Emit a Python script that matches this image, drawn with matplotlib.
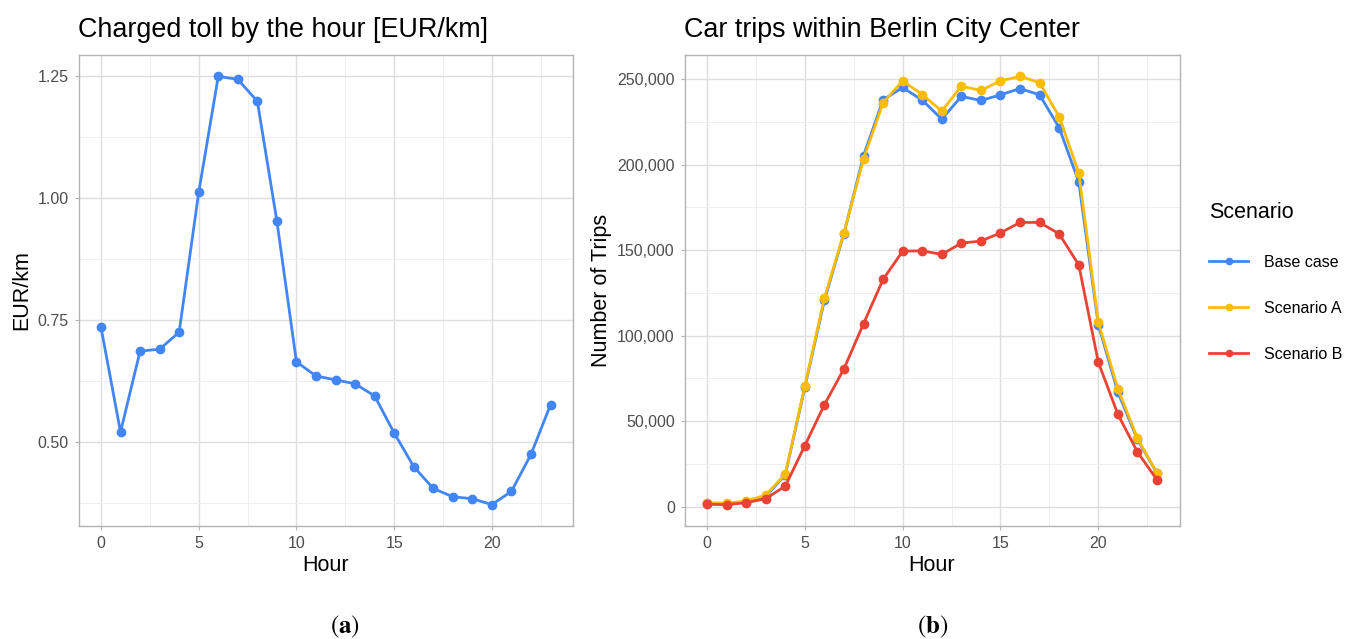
import numpy as np
import matplotlib.pyplot as plt
from matplotlib.ticker import FuncFormatter, MultipleLocator

plt.rcParams['font.family'] = ['Liberation Sans', 'DejaVu Sans']

# Datos
hours = np.arange(0, 24)

toll = [0.735, 0.520, 0.686, 0.690, 0.725, 1.012, 1.250, 1.244, 1.199, 0.953,
        0.664, 0.635, 0.627, 0.619, 0.594, 0.518, 0.449, 0.404, 0.387, 0.383,
        0.371, 0.398, 0.474, 0.576]

base_case = [1900, 1700, 2900, 6000, 18600, 69800, 120600, 159700, 205250, 237900,
             245100, 237700, 226600, 239900, 237500, 240800, 244500, 240800, 221600, 189900,
             106400, 66900, 39300, 19600]
scenario_a = [2300, 2100, 3300, 6800, 19000, 70600, 122000, 160100, 203300, 236200,
              249000, 241000, 231300, 245900, 243400, 249000, 251600, 247900, 228000, 195300,
              108000, 69000, 40000, 19600]
scenario_b = [1400, 1200, 2300, 4700, 12000, 35700, 59600, 80600, 107000, 132900,
              149400, 149600, 147500, 154100, 155300, 160100, 166200, 166200, 159500, 141400,
              84500, 54000, 32000, 15700]

series = [("Base case", base_case, "#4285F4"),
          ("Scenario A", scenario_a, "#FBBC05"),
          ("Scenario B", scenario_b, "#EA4335")]


def estilo(ax):
    ax.set_facecolor("white")
    for s in ax.spines.values():
        s.set_color("#B3B3B3")
        s.set_linewidth(1.0)
    ax.grid(True, which="major", color="#DEDEDE", linewidth=1.0)
    ax.grid(True, which="minor", color="#EDEDED", linewidth=0.6)
    ax.set_axisbelow(True)
    ax.tick_params(which="major", length=3, color="#B3B3B3", labelsize=11.5,
                   labelcolor="#4D4D4D", pad=4)
    ax.tick_params(which="minor", length=0)
    ax.xaxis.set_major_locator(MultipleLocator(5))
    ax.xaxis.set_minor_locator(MultipleLocator(2.5))
    ax.set_xlim(-1.15, 24.15)
    ax.set_xlabel("Hour", fontsize=15.5, labelpad=3)


fig = plt.figure(figsize=(13.46, 6.39), dpi=100)
ax1 = fig.add_axes([78.5 / 1346, 113 / 639, 494.5 / 1346, 471 / 639])
ax2 = fig.add_axes([684.5 / 1346, 113 / 639, 495 / 1346, 471 / 639])

# Figura (a): peaje
estilo(ax1)
ax1.plot(hours, toll, "-o", color="#4285F4", linewidth=2.0, markersize=6)
ax1.yaxis.set_major_locator(MultipleLocator(0.25))
ax1.yaxis.set_minor_locator(MultipleLocator(0.125))
ax1.yaxis.set_major_formatter(FuncFormatter(lambda v, p: f"{v:.2f}"))
ax1.set_ylim(0.327, 1.294)
ax1.set_ylabel("EUR/km", fontsize=15.5, labelpad=4)
ax1.set_title("Charged toll by the hour [EUR/km]", fontsize=19.4, loc="left", pad=13)

# Figura (b): viajes
estilo(ax2)
for name, vals, col in series:
    ax2.plot(hours, vals, "-o", color=col, linewidth=2.0, markersize=6, label=name)
ax2.yaxis.set_major_locator(MultipleLocator(50000))
ax2.yaxis.set_minor_locator(MultipleLocator(25000))
ax2.yaxis.set_major_formatter(FuncFormatter(lambda v, p: f"{int(v):,}"))
ax2.set_ylim(-11300, 264100)
ax2.set_ylabel("Number of Trips", fontsize=15.5, labelpad=4)
ax2.set_title("Car trips within Berlin City Center", fontsize=19.4, loc="left", pad=13)

leg = ax2.legend(title="Scenario", loc="upper left",
                 bbox_to_anchor=(1195 / 1346, 1 - 188 / 639), bbox_transform=fig.transFigure,
                 frameon=False, fontsize=11.5, title_fontsize=15.5, labelspacing=1.95,
                 handlelength=2.4, handletextpad=1.0, alignment="left", markerscale=0.75)

# Subtítulos
plt.rcParams['mathtext.fontset'] = 'stix'
fig.text(345 / 1346, 1 - 627 / 639, r"($\mathbf{a}$)", fontsize=18, family="STIXGeneral",
         ha="center", va="center")
fig.text(933 / 1346, 1 - 627 / 639, r"($\mathbf{b}$)", fontsize=18, family="STIXGeneral",
         ha="center", va="center")

fig.savefig("out.png", dpi=100)
